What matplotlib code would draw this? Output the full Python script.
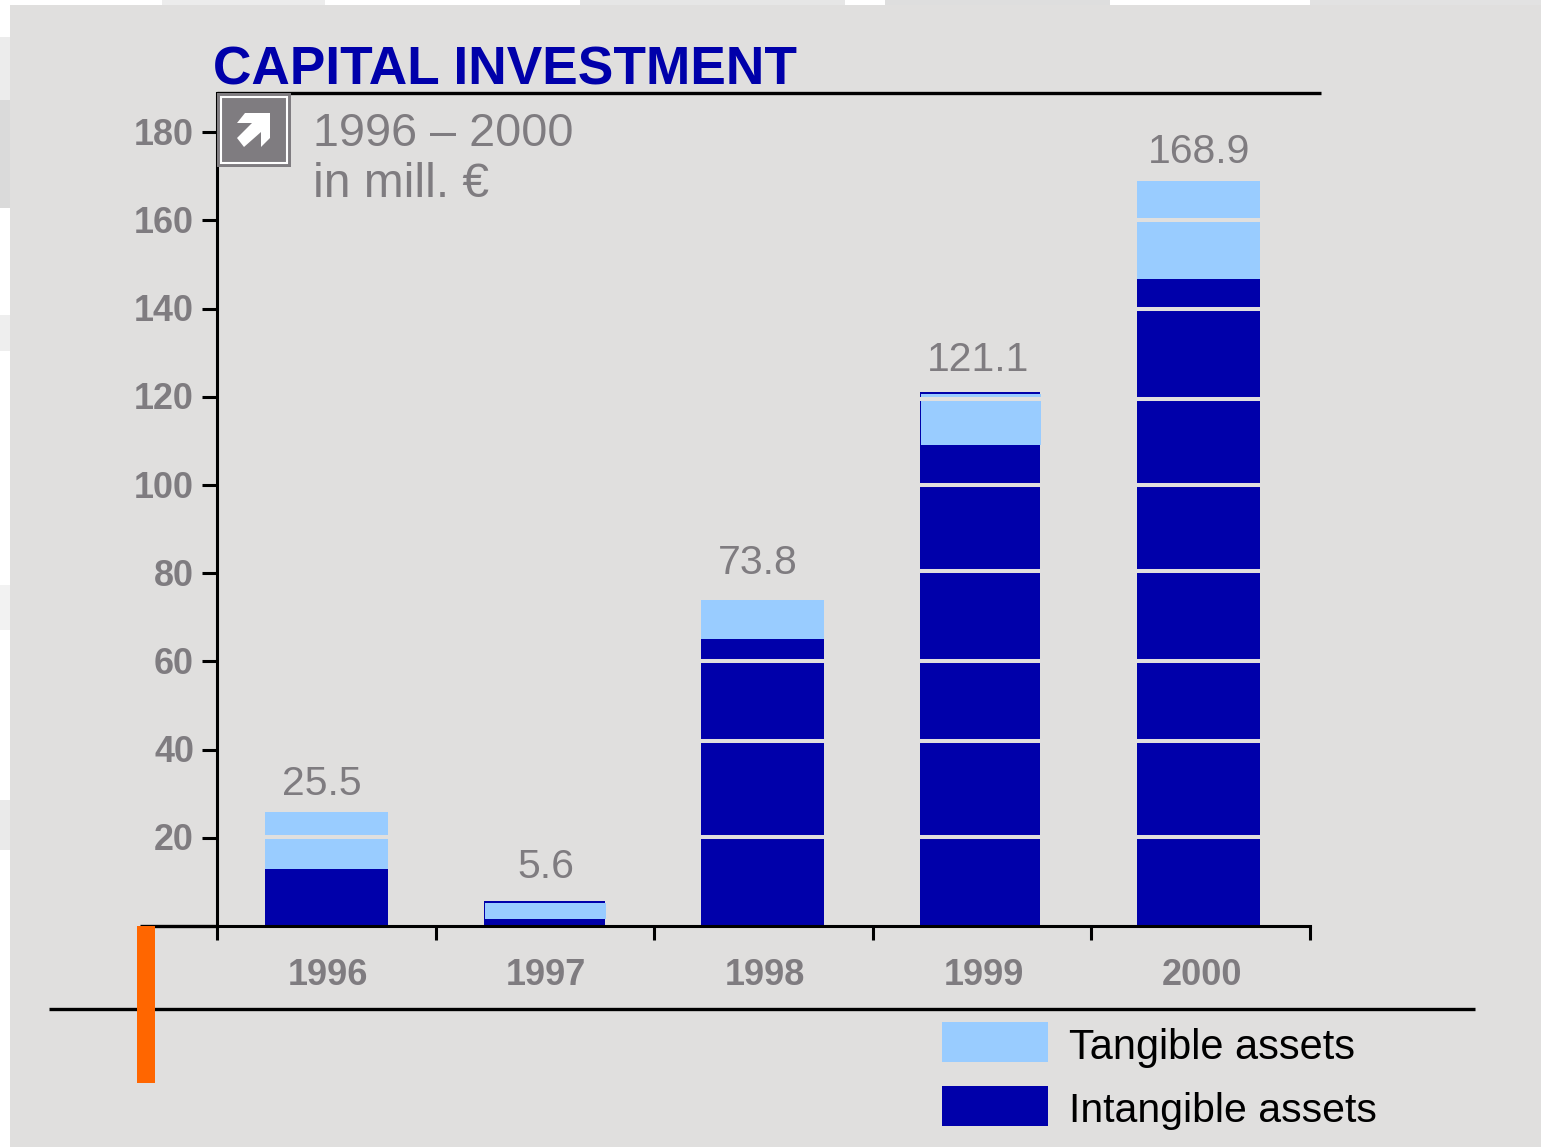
import matplotlib
matplotlib.use("Agg")
import matplotlib.pyplot as plt
from matplotlib.patches import Rectangle, Polygon
from matplotlib.transforms import ScaledTranslation

W, H = 1541, 1147
categories = ["1996", "1997", "1998", "1999", "2000"]
totals = [25.8, 5.6, 74.0, 121.1, 168.9]
total_labels = ["25.5", "5.6", "73.8", "121.1", "168.9"]
intangible = [12.9, 1.6, 65.0, 109.0, 146.7]
tangible_top = [25.8, 5.3, 74.0, 120.7, 168.9]
band_levels = [20.2, 41.9, 60.0, 80.5, 100.0, 119.5, 139.9, 160.0]
y_ticks = [20, 40, 60, 80, 100, 120, 140, 160, 180]

# placement details
bar_shift = [0.0, -0.002, -0.005, -0.0096, -0.01]
bar_width = [0.563, 0.553, 0.563, 0.549, 0.563]
label_shift_x = [-0.02, 0.003, -0.025, -0.02, -0.006]
label_gap = [2.0, 3.5, 3.9, 3.0, 2.4]

DARK = "#0000AA"
LIGHT = "#99CCFF"
PANEL = "#E0DFDE"
GREY = "#7F7C80"

plt.rcParams["font.family"] = ["Liberation Sans", "DejaVu Sans"]
fig = plt.figure(figsize=(W / 100, H / 100), dpi=100, facecolor="white")


def fx(x):
    return x / W


def fy(y):
    return 1 - y / H


def rect(x0, y0, x1, y1, **kw):
    fig.add_artist(Rectangle((fx(x0), fy(y1)), (x1 - x0) / W, (y1 - y0) / H, transform=fig.transFigure, **kw))


# marbled backdrop showing round the panel
for (x0, y0, x1, y1, c) in [(0, 37, 10, 100, "#ECECEC"), (0, 100, 10, 208, "#DADADA"), (0, 315, 10, 351, "#EEEEEE"),
                            (0, 585, 10, 630, "#F2F2F2"), (0, 800, 10, 850, "#EAEAEA"),
                            (162, 0, 325, 5, "#ECECEC"), (580, 0, 845, 5, "#E6E6E6"), (885, 0, 1110, 5, "#DEDEDE"),
                            (1310, 0, 1541, 5, "#E2E2E2")]:
    rect(x0, y0, x1, y1, fc=c, ec="none", zorder=-3)
rect(10, 5, W, H, fc=PANEL, ec="none", zorder=-2)

ax = fig.add_axes([fx(217), fy(926), (1310 - 217) / W, (926 - 93) / H])
ax.set_facecolor("none")
ax.set_xlim(-0.5, 4.5)
ax.set_ylim(0, (926 - 93) / 4.41)
for s in ("top", "right"):
    ax.spines[s].set_visible(False)
for s in ("left", "bottom"):
    ax.spines[s].set_linewidth(2.2)

xs = list(range(len(categories)))
xc = [a + b for a, b in zip(xs, bar_shift)]
ax.bar(xc, intangible, bar_width, color=DARK, zorder=2)
for i in (1, 3):
    ax.bar(xc[i], totals[i], bar_width[i], color=DARK, zorder=2)
tang = [t - i for t, i in zip(tangible_top, intangible)]
light_x = [x + (0.006 if i in (1, 3) else 0) for i, x in enumerate(xc)]
ax.bar(light_x, tang, bar_width, bottom=intangible, color=LIGHT, zorder=3)
for i, t in enumerate(totals):
    for lv in band_levels:
        if lv < t:
            ax.plot([xc[i] - bar_width[i] / 2 - 0.005, xc[i] + bar_width[i] / 2 + 0.012], [lv, lv],
                    color=PANEL, lw=2.9, zorder=4, solid_capstyle="butt")
    ax.text(i + label_shift_x[i], t + label_gap[i], total_labels[i], ha="center", va="bottom",
            fontsize=29.5, color=GREY, zorder=5)

ax.set_yticks(y_ticks)
ax.set_yticklabels([str(v) for v in y_ticks], fontsize=25.8, fontweight="bold", color=GREY)
ax.tick_params(axis="y", length=11, width=2.2, pad=5.5)
up = ScaledTranslation(0, 1 / 100, fig.dpi_scale_trans)
for lab in ax.get_yticklabels():
    lab.set_transform(lab.get_transform() + up)
ax.set_xticks([x + 0.5 for x in [-1] + xs])
ax.set_xticklabels([])
ax.tick_params(axis="x", length=10, width=2.2)
for i, c in enumerate(categories):
    ax.text(i + 0.007, -11.2, c, ha="center", va="center", fontsize=26, fontweight="bold", color=GREY)

fig.text(fx(213), fy(84.5), "CAPITAL INVESTMENT", fontsize=38.35, fontweight="bold", color=DARK, ha="left", va="baseline")
fig.text(fx(313), fy(146), "1996 – 2000", fontsize=33.7, color=GREY, ha="left", va="baseline")
fig.text(fx(313), fy(197), "in mill. €", fontsize=34.5, color=GREY, ha="left", va="baseline")


def line(x0, y0, x1, y1, lw=2.4):
    fig.add_artist(plt.Line2D([fx(x0), fx(x1)], [fy(y0), fy(y1)], color="black", lw=lw, zorder=3, solid_capstyle="butt"))


line(217, 93, 1321, 93)
line(49, 1009, 1475, 1009)
line(140, 926, 217, 926)
rect(137, 926, 155, 1083, fc="#FF6600", ec="none", zorder=4)

# icon
rect(217, 93, 291, 167, fc=GREY, ec="none", zorder=5)
rect(220.5, 96.5, 287, 163, fc=GREY, ec="white", lw=1.5, zorder=6)
arrow = [(245, 113), (270, 113), (270, 138), (261, 147), (261, 132), (244, 147), (237, 138), (252, 123), (237, 123)]
fig.add_artist(Polygon([(fx(a), fy(b)) for a, b in arrow], closed=True, transform=fig.transFigure, fc="white", ec="none", zorder=7))

# legend
rect(942, 1022, 1048, 1062, fc=LIGHT, ec="none", zorder=3)
rect(942, 1086, 1048, 1126, fc=DARK, ec="none", zorder=3)
fig.text(fx(1069), fy(1059), "Tangible assets", fontsize=29.9, color="black", ha="left", va="baseline")
fig.text(fx(1069), fy(1122), "Intangible assets", fontsize=29.5, color="black", ha="left", va="baseline")

fig.savefig("out.png", dpi=100, facecolor=fig.get_facecolor())
